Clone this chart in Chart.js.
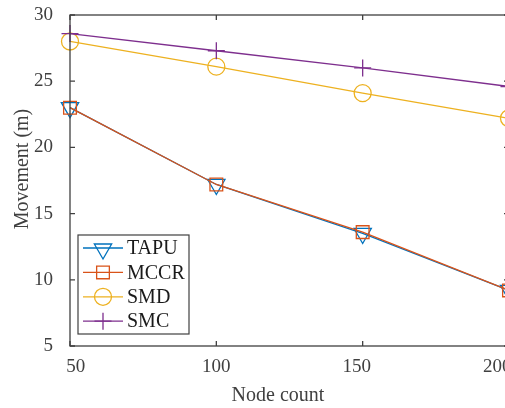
<!DOCTYPE html>
<html>
<head>
<meta charset="utf-8">
<script src="https://cdn.jsdelivr.net/npm/chart.js@4/dist/chart.umd.min.js"></script>
<style>
  html, body { margin: 0; padding: 0; background: #fff; }
  #wrap { width: 505px; height: 408px; overflow: hidden; position: relative; }
  #chart { position: absolute; left: 0; top: 0; }
</style>
</head>
<body>
<div id="wrap"><canvas id="chart" width="560" height="408"></canvas></div>
<script>
// values
const nodeCounts = [50, 100, 150, 200];
const tapu = [23.0, 17.2, 13.5, 9.2];
const mccr = [23.0, 17.2, 13.6, 9.2];
const smd  = [28.0, 26.1, 24.1, 22.2];
const smc  = [28.6, 27.3, 26.0, 24.6];
const xTickValues = [50, 100, 150, 200];
const yTickValues = [5, 10, 15, 20, 25, 30];

const FONT = '"Liberation Serif", "DejaVu Serif", serif';
const AXIS = '#404040';

const toPoints = vals => vals.map((v, i) => ({ x: nodeCounts[i], y: v }));

function series(label, vals, color, style, radius, rotation, order) {
  return {
    label: label,
    data: toPoints(vals),
    borderColor: color,
    backgroundColor: 'rgba(0,0,0,0)',
    borderWidth: 1.3,
    pointStyle: style,
    pointRadius: radius,
    pointRotation: rotation,
    pointBorderColor: color,
    pointBackgroundColor: 'rgba(0,0,0,0)',
    pointBorderWidth: 1.3,
    pointHoverRadius: radius,
    tension: 0,
    clip: false,
    order: order
  };
}

// box, inward ticks, x labels and titles, MATLAB style
const axesBox = {
  id: 'axesBox',
  afterDatasetsDraw(chart) {
    const { ctx, chartArea: a, scales } = chart;
    ctx.save();
    ctx.strokeStyle = AXIS;
    ctx.lineWidth = 1.3;
    ctx.strokeRect(a.left, a.top, a.right - a.left, a.bottom - a.top);
    const t = 5;
    ctx.beginPath();
    xTickValues.forEach(v => {
      const px = scales.x.getPixelForValue(v);
      ctx.moveTo(px, a.bottom); ctx.lineTo(px, a.bottom - t);
      ctx.moveTo(px, a.top); ctx.lineTo(px, a.top + t);
    });
    yTickValues.forEach(v => {
      const py = scales.y.getPixelForValue(v);
      ctx.moveTo(a.left, py); ctx.lineTo(a.left + t, py);
      ctx.moveTo(a.right, py); ctx.lineTo(a.right - t, py);
    });
    ctx.stroke();

    // x tick labels (slightly drawn together, as in the source figure)
    ctx.fillStyle = AXIS;
    ctx.font = '19px ' + FONT;
    ctx.textAlign = 'center';
    ctx.textBaseline = 'middle';
    const mid = scales.x.getPixelForValue(100);
    xTickValues.forEach(v => {
      const px = scales.x.getPixelForValue(v);
      ctx.fillText(String(v), mid + (px - mid) * 0.96, a.bottom + 21);
    });

    // axis titles
    ctx.font = '20px ' + FONT;
    ctx.fillText('Node count', 278, 396);
    ctx.translate(23, 169);
    ctx.rotate(-Math.PI / 2);
    ctx.fillText('Movement (m)', 0, 0);
    ctx.restore();
  },
  afterDraw(chart) {
    // legend inside the plot, lower left
    const { ctx, chartArea: a } = chart;
    const x0 = a.left + 8, y0 = a.bottom - 111, w = 111, h = 99;
    ctx.save();
    ctx.fillStyle = '#fff';
    ctx.fillRect(x0, y0, w, h);
    ctx.strokeStyle = AXIS;
    ctx.lineWidth = 1.2;
    ctx.strokeRect(x0, y0, w, h);
    ctx.font = '20px ' + FONT;
    ctx.textAlign = 'left';
    ctx.textBaseline = 'middle';
    chart.data.datasets.forEach((ds, i) => {
      const y = y0 + 13 + i * 24.4;
      ctx.strokeStyle = ds.borderColor;
      ctx.lineWidth = 1.3;
      ctx.beginPath();
      ctx.moveTo(x0 + 5, y);
      ctx.lineTo(x0 + 45, y);
      ctx.stroke();
      ctx.fillStyle = 'rgba(0,0,0,0)';
      Chart.helpers.drawPoint(ctx, {
        pointStyle: ds.pointStyle,
        radius: ds.pointRadius,
        rotation: ds.pointRotation,
        borderWidth: 1.3
      }, x0 + 25, y + (ds.pointStyle === 'triangle' ? 1 : 0));
      ctx.fillStyle = '#1a1a1a';
      ctx.fillText(ds.label, x0 + 49, y + 1);
    });
    ctx.restore();
  }
};

new Chart(document.getElementById('chart'), {
  type: 'line',
  data: {
    datasets: [
      series('TAPU', tapu, '#0072BD', 'triangle', 10, 180, 4),
      series('MCCR', mccr, '#D95319', 'rect', 9, 0, 3),
      series('SMD', smd, '#EDB120', 'circle', 8.5, 0, 2),
      series('SMC', smc, '#7E2F8E', 'cross', 8.5, 0, 1)
    ]
  },
  options: {
    responsive: false,
    animation: false,
    events: [],
    layout: { padding: { left: 0, right: 51, top: 15, bottom: 0 } },
    plugins: { legend: { display: false }, tooltip: { enabled: false } },
    scales: {
      x: {
        type: 'linear',
        min: 50,
        max: 200,
        afterBuildTicks: s => { s.ticks = xTickValues.map(v => ({ value: v })); },
        afterFit: s => { s.height = 62; s.paddingLeft = 0; s.paddingRight = 0; },
        grid: { display: false },
        border: { display: false },
        ticks: { display: false }
      },
      y: {
        min: 5,
        max: 30,
        afterBuildTicks: s => { s.ticks = yTickValues.map(v => ({ value: v })); },
        afterFit: s => { s.width = 70; s.paddingTop = 0; s.paddingBottom = 0; },
        grid: { display: false },
        border: { display: false },
        ticks: { color: AXIS, font: { family: FONT, size: 19 }, padding: 9 }
      }
    }
  },
  plugins: [axesBox]
});
</script>
</body>
</html>
